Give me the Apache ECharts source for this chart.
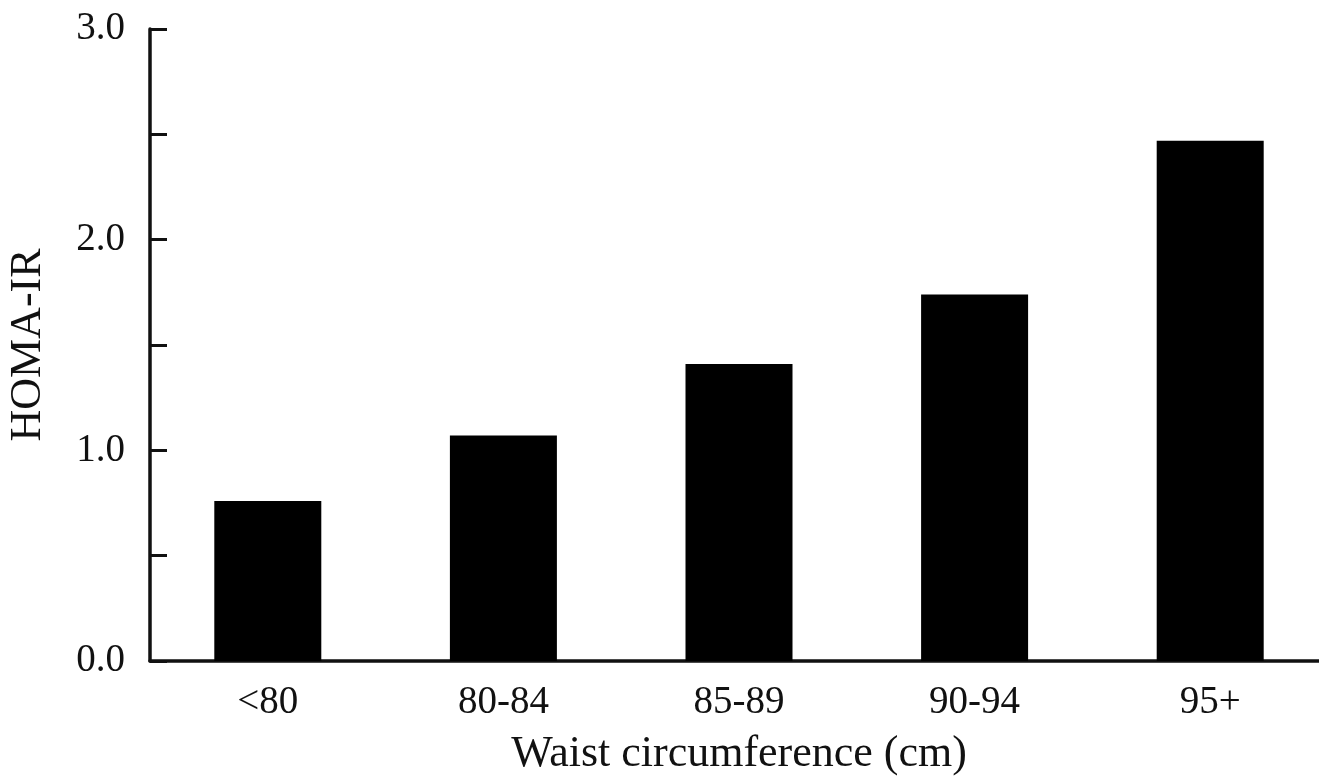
<!DOCTYPE html>
<html>
<head>
<meta charset="utf-8">
<script src="https://cdn.jsdelivr.net/npm/echarts@6/dist/echarts.min.js"></script>
<style>
  html, body { margin: 0; padding: 0; background: #fff; }
  #chart { width: 1319px; height: 780px; }
</style>
</head>
<body>
<div id="chart"></div>
<script>
const categories = ['<80', '80-84', '85-89', '90-94', '95+'];
const homaIR = [0.76, 1.07, 1.41, 1.74, 2.47];
const xTitle = 'Waist circumference (cm)';
const yTitle = 'HOMA-IR';

const FONT = '"Liberation Serif", "Times New Roman", serif';
const INK = '#111';

const chart = echarts.init(document.getElementById('chart'));
chart.setOption({
  animation: false,
  backgroundColor: '#fff',
  grid: {
    left: 150, top: 29, width: 1178, height: 632,
    containLabel: false, outerBoundsMode: 'none'
  },
  xAxis: {
    type: 'category',
    data: categories,
    name: xTitle,
    nameLocation: 'middle',
    nameGap: 71,
    nameTextStyle: { fontFamily: FONT, fontSize: 44, color: INK },
    axisLine: { lineStyle: { color: INK, width: 3.5 } },
    axisTick: { show: false },
    axisLabel: { fontFamily: FONT, fontSize: 39, color: INK, margin: 22 }
  },
  yAxis: {
    type: 'value',
    min: 0,
    max: 3,
    interval: 0.5,
    name: yTitle,
    nameLocation: 'middle',
    nameRotate: 90,
    nameGap: 100,
    nameTextStyle: { fontFamily: FONT, fontSize: 44, color: INK },
    axisLine: { show: true, lineStyle: { color: INK, width: 3.5 } },
    axisTick: { show: true, inside: true, length: 17, lineStyle: { color: INK, width: 3 } },
    splitLine: { show: false },
    axisLabel: {
      fontFamily: FONT, fontSize: 39, color: INK, margin: 25,
      formatter: function (v) { return Math.abs(v - Math.round(v)) < 1e-9 ? v.toFixed(1) : ''; }
    }
  },
  series: [{
    type: 'bar',
    data: homaIR,
    barWidth: 107,
    itemStyle: { color: '#000' }
  }]
});
</script>
</body>
</html>
